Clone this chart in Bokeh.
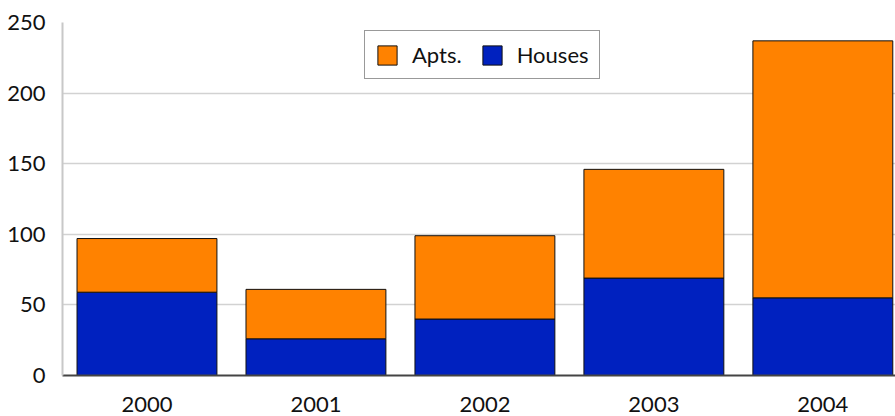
from bokeh.plotting import figure
from bokeh.models import Range1d, Legend, LegendItem, ColumnDataSource, FixedTicker
from bokeh.embed import file_html
from bokeh.resources import INLINE

years = ["2000", "2001", "2002", "2003", "2004"]
houses = [59, 26, 40, 69, 55]
apts = [38, 35, 59, 77, 182]
y_ticks = [0, 50, 100, 150, 200, 250]

xpos = list(range(len(years)))
src = ColumnDataSource(dict(x=xpos, Houses=houses, Apts=apts))

p = figure(width=895, height=416, output_backend="svg", toolbar_location=None,
           x_range=Range1d(-0.5, 4.43), y_range=Range1d(0, 250),
           min_border_left=62, min_border_right=0, min_border_top=22, min_border_bottom=41)
p.outline_line_color = None

r = p.vbar_stack(["Houses", "Apts"], x="x", width=0.828, source=src,
                 color=["#0021bf", "#ff8200"], line_color="#111111", line_width=1)

font = "Lato"
p.xaxis.ticker = FixedTicker(ticks=xpos)
p.xaxis.major_label_overrides = {i: y for i, y in enumerate(years)}
p.yaxis.ticker = FixedTicker(ticks=y_ticks)
for ax in (p.xaxis, p.yaxis):
    ax.major_label_text_font = font
    ax.major_label_text_font_size = "22px"
    ax.major_label_text_color = "#111111"
    ax.major_tick_line_color = None
    ax.major_tick_out = 0
    ax.major_tick_in = 0
    ax.minor_tick_line_color = None
p.xaxis.axis_line_color = "#444444"
p.xaxis.axis_line_width = 2
p.yaxis.axis_line_color = "#c8c8c8"
p.yaxis.axis_line_width = 2
p.xaxis.major_label_standoff = 21
p.yaxis.major_label_standoff = 17

p.xgrid.grid_line_color = None
p.ygrid.grid_line_color = "#d2d2d2"
p.ygrid.grid_line_width = 1.5

legend = Legend(items=[LegendItem(label="Apts.", renderers=[r[1]]),
                       LegendItem(label="Houses", renderers=[r[0]])],
                orientation="horizontal", location=(302, 296))
legend.label_text_font = font
legend.label_text_font_size = "22px"
legend.label_text_color = "#111111"
legend.glyph_width = 24
legend.glyph_height = 24
legend.label_standoff = 13
legend.spacing = 18
legend.padding = 10
legend.margin = 0
legend.border_line_color = "#333333"
legend.border_line_width = 1
p.add_layout(legend, "center")

open("out.html", "w").write(file_html(p, INLINE))
